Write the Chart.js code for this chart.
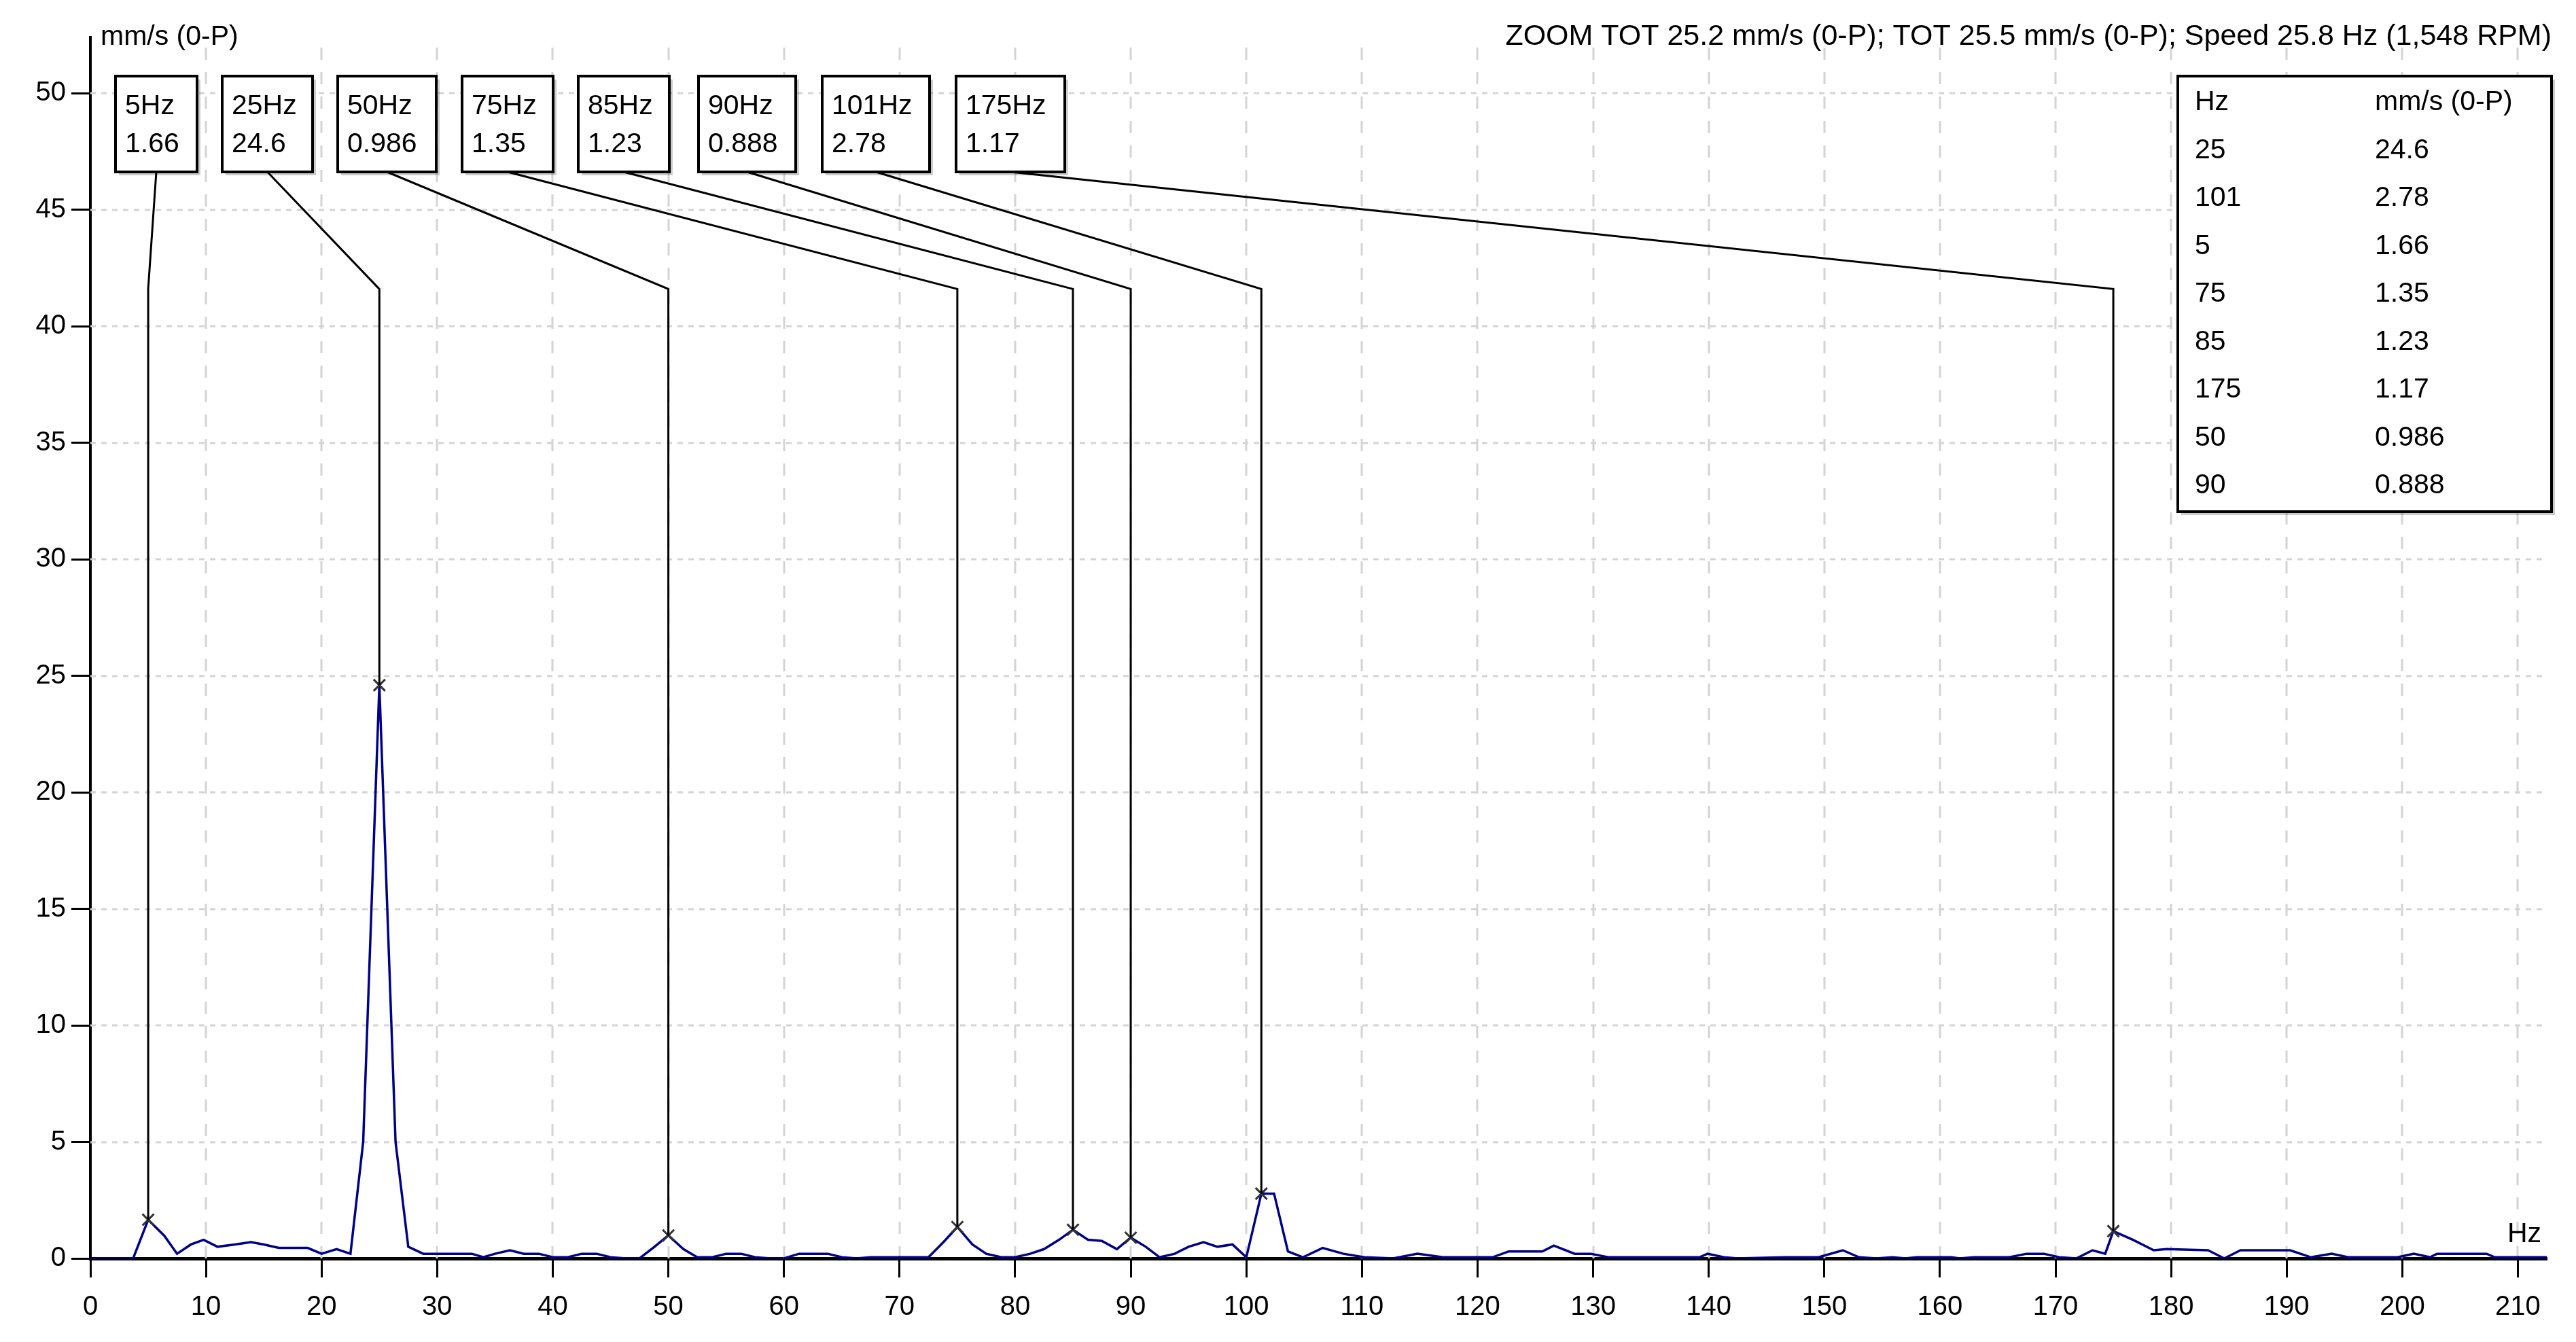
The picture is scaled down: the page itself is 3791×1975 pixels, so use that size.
<!DOCTYPE html>
<html><head><meta charset="utf-8">
<script src="https://cdn.jsdelivr.net/npm/chart.js@4"></script>
<style>html,body{margin:0;padding:0;background:#fff}canvas{display:block}</style>
</head><body>
<canvas id="c" width="3791" height="1975"></canvas>
<script>
const freqs=[0,3.7,5,6.4,7.5,8.7,9.8,11,12.5,13.9,15,16.3,17.5,18.8,20,21.3,22.5,23.6,25,26.4,27.5,28.8,30,33,34,35,36.3,37.5,38.8,40,41.3,42.5,43.8,45,46.3,47.5,48.8,50,51.3,52.5,53.8,55,56.3,57.5,58.8,60,61.3,62.5,63.8,65,66.3,67.5,72.5,73.8,75,76.3,77.5,78.8,80,81.3,82.5,83.8,85,86.3,87.5,88.8,90,91.3,92.5,93.8,95,96.3,97.5,98.8,100,101.3,102.4,103.6,104.9,106.6,108.4,110.2,112.7,114.8,117,121.3,122.7,125.6,126.6,128.4,129.8,131.3,139.2,139.9,141.3,142.5,146.6,149.5,151.6,153,154.5,155.9,157,158,161,161.7,163,166,167.5,169,170.3,171.8,173.2,174.3,175,176.7,178.5,179.6,183.2,184.6,186,190.3,192.1,193.9,195.3,199.6,201,202.4,203,207.3,208,213.5];
const amps=[0,0,1.66,0.97,0.2,0.6,0.8,0.5,0.6,0.7,0.6,0.45,0.45,0.45,0.2,0.4,0.2,5,24.6,5,0.5,0.2,0.2,0.2,0.05,0.2,0.35,0.2,0.2,0.05,0.05,0.2,0.2,0.05,0,0,0.5,0.99,0.4,0.05,0.05,0.2,0.2,0.05,0,0,0.2,0.2,0.2,0.05,0,0.05,0.05,0.7,1.35,0.6,0.2,0.05,0.05,0.2,0.4,0.8,1.23,0.8,0.75,0.4,0.89,0.5,0.05,0.2,0.5,0.7,0.5,0.6,0.05,2.78,2.78,0.3,0.05,0.45,0.2,0.05,0,0.2,0.05,0.05,0.3,0.3,0.55,0.2,0.2,0.05,0.05,0.2,0.05,0,0.05,0.05,0.35,0.05,0,0.05,0,0.05,0.05,0,0.05,0.05,0.2,0.2,0.05,0,0.35,0.2,1.17,0.8,0.35,0.4,0.35,0,0.35,0.35,0.05,0.2,0.05,0.05,0.2,0.05,0.2,0.2,0.05,0.05];
const peakHz=[5,25,50,75,85,90,101.3,175];
const peakLabel=['5Hz','25Hz','50Hz','75Hz','85Hz','90Hz','101Hz','175Hz'];
const peakVal=[1.66,24.6,0.986,1.35,1.23,0.888,2.78,1.17];
const peakValText=['1.66','24.6','0.986','1.35','1.23','0.888','2.78','1.17'];
const tableHz=['25','101','5','75','85','175','50','90'];
const tableVal=['24.6','2.78','1.66','1.35','1.23','1.17','0.986','0.888'];
const xTicks=[0,10,20,30,40,50,60,70,80,90,100,110,120,130,140,150,160,170,180,190,200,210];
const yTicks=[0,5,10,15,20,25,30,35,40,45,50];
const titleText='ZOOM TOT 25.2 mm/s (0-P); TOT 25.5 mm/s (0-P); Speed 25.8 Hz (1,548 RPM)';
const yTitle='mm/s (0-P)', xTitle='Hz';
const boxes=[[170,290],[327,460],[497,642],[680,814],[851,985],[1028,1171],[1210,1368],[1407,1567]];
const FONT='"Liberation Sans", Arial, sans-serif';

const gridPlugin={id:'dgrid',beforeDatasetsDraw(ch){
  const c=ch.ctx,xs=ch.scales.x,ys=ch.scales.y,a=ch.chartArea;
  c.save();c.strokeStyle='#d4d4d4';c.lineWidth=3;
  c.setLineDash([18,18]);
  xTicks.forEach(v=>{if(v===0)return;const x=Math.round(xs.getPixelForValue(v));c.beginPath();c.moveTo(x,a.bottom);c.lineTo(x,a.top);c.stroke();});
  c.setLineDash([8,8]);
  yTicks.forEach(v=>{if(v===0)return;const y=Math.round(ys.getPixelForValue(v));c.beginPath();c.moveTo(a.left,y);c.lineTo(a.right,y);c.stroke();});
  c.restore();
}};

const overlay={id:'overlay',afterDatasetsDraw(ch){
  const c=ch.ctx,xs=ch.scales.x,ys=ch.scales.y;
  c.save();
  c.font='41px '+FONT;c.fillStyle='#000';c.textBaseline='alphabetic';
  c.strokeStyle='#000';c.lineWidth=3;
  const kneeY=ys.getPixelForValue(41.6);
  peakHz.forEach((f,i)=>{
    const px=xs.getPixelForValue(f),py=ys.getPixelForValue(peakVal[i]);
    const [l,r]=boxes[i];
    c.beginPath();c.moveTo((l+r)/2,253);c.lineTo(px,kneeY);c.lineTo(px,py);c.stroke();
  });
  peakHz.forEach((f,i)=>{
    const [l,r]=boxes[i];
    c.fillStyle='rgba(0,0,0,0.2)';c.fillRect(l+5,117,r-l,141);
    c.fillStyle='#fff';c.fillRect(l,112,r-l,141);
    c.strokeStyle='#000';c.lineWidth=4;c.strokeRect(l,112,r-l,141);
    c.fillStyle='#000';c.textAlign='left';
    c.fillText(peakLabel[i],l+14,168);c.fillText(peakValText[i],l+14,224);
  });
  const tl=3205,tt=112,tw=550,th=641;
  c.fillStyle='rgba(0,0,0,0.2)';c.fillRect(tl+5,tt+5,tw,th);
  c.fillStyle='#fff';c.fillRect(tl,tt,tw,th);
  c.strokeStyle='#000';c.lineWidth=4;c.strokeRect(tl,tt,tw,th);
  c.fillStyle='#000';
  c.fillText('Hz',tl+25,tt+50);c.fillText(yTitle,tl+290,tt+50);
  tableHz.forEach((h,i)=>{const y=tt+50+70.5*(i+1);c.fillText(h,tl+25,y);c.fillText(tableVal[i],tl+290,y);});
  c.font='43px '+FONT;
  c.textAlign='right';c.fillText(titleText,3755,66);
  c.font='41px '+FONT;
  c.textAlign='left';c.fillText(yTitle,148,66);
  c.textAlign='right';c.fillText(xTitle,3740,1828);
  c.restore();
}};

new Chart(document.getElementById('c'),{
  type:'scatter',
  data:{datasets:[
    {data:freqs.map((f,i)=>({x:f,y:amps[i]})),showLine:true,borderColor:'#00008B',borderWidth:3.5,pointRadius:0,tension:0,order:2},
    {data:peakHz.map((f,i)=>({x:f,y:peakVal[i]})),pointStyle:'crossRot',pointRadius:12,borderColor:'#333',borderWidth:3,order:1}
  ]},
  options:{responsive:false,animation:false,devicePixelRatio:1,
    layout:{padding:{left:0,top:55,right:43,bottom:0}},
    plugins:{legend:{display:false},tooltip:{enabled:false}},
    scales:{
      x:{type:'linear',min:0,max:212.5,
        afterBuildTicks:a=>{a.ticks=xTicks.map(v=>({value:v}));},
        afterFit:a=>{a.height=123;},
        ticks:{color:'#000',font:{size:40,family:FONT},padding:20,maxRotation:0,autoSkip:false},
        grid:{drawOnChartArea:false,tickLength:28,tickColor:'#000',tickWidth:3},
        border:{color:'#000',width:5}},
      y:{min:0,max:52.4,
        afterBuildTicks:a=>{a.ticks=yTicks.map(v=>({value:v}));},
        afterFit:a=>{a.width=133;},
        ticks:{color:'#000',font:{size:40,family:FONT},padding:8,autoSkip:false},
        grid:{drawOnChartArea:false,tickLength:28,tickColor:'#000',tickWidth:3},
        border:{color:'#000',width:4}}
    }},
  plugins:[gridPlugin,overlay]
});
</script>
</body></html>
